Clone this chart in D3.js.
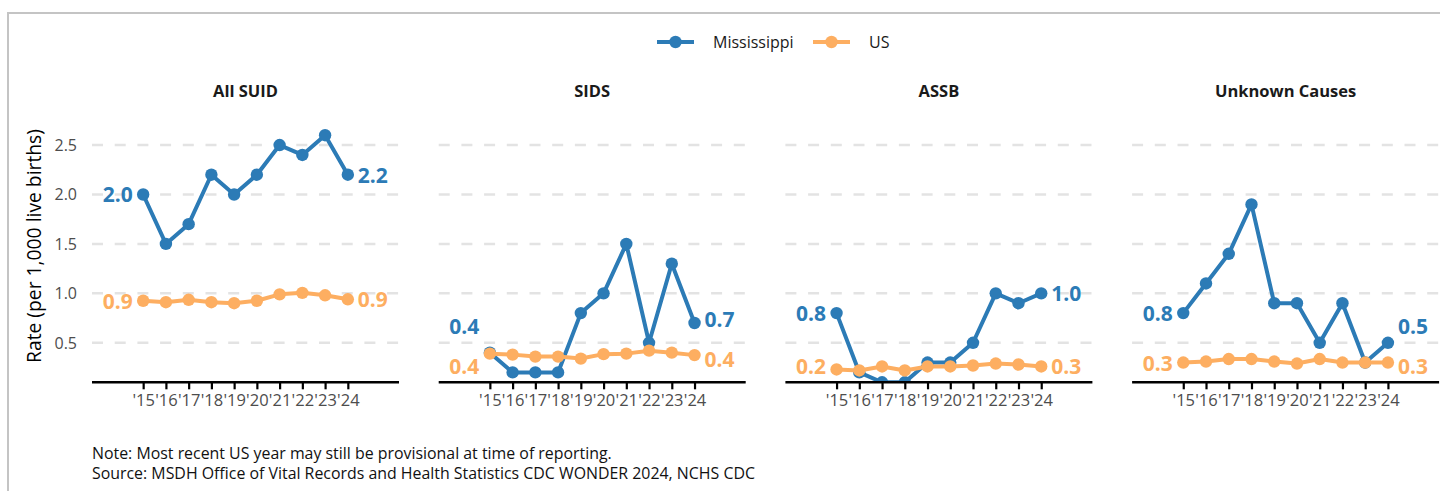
<!DOCTYPE html>
<html>
<head>
<meta charset="utf-8">
<script src="https://cdn.jsdelivr.net/npm/d3@7"></script>
<style>
  body { margin: 0; background: #fff; }
  svg { display: block; font-family: "Segoe UI", "Open Sans", sans-serif; }
</style>
</head>
<body>
<div id="chart"></div>
<script>
// data
var years = [2015, 2016, 2017, 2018, 2019, 2020, 2021, 2022, 2023, 2024];
var yearLabels = ["'15", "'16", "'17", "'18", "'19", "'20", "'21", "'22", "'23", "'24"];
var panelTitles = ["All SUID", "SIDS", "ASSB", "Unknown Causes"];
var seriesNames = ["Mississippi", "US"];
var yTicks = [0.5, 1.0, 1.5, 2.0, 2.5];

var msSuid    = [2.0, 1.5, 1.7, 2.2, 2.0, 2.2, 2.5, 2.4, 2.6, 2.2];
var usSuid    = [0.925, 0.91, 0.935, 0.91, 0.90, 0.925, 0.99, 1.005, 0.98, 0.94];
var msSids    = [0.4, 0.2, 0.2, 0.2, 0.8, 1.0, 1.5, 0.5, 1.3, 0.7];
var usSids    = [0.39, 0.38, 0.36, 0.36, 0.34, 0.385, 0.39, 0.42, 0.40, 0.375];
var msAssb    = [0.8, 0.2, 0.1, 0.1, 0.3, 0.3, 0.5, 1.0, 0.9, 1.0];
var usAssb    = [0.23, 0.22, 0.26, 0.22, 0.26, 0.26, 0.27, 0.29, 0.28, 0.26];
var msUnknown = [0.8, 1.1, 1.4, 1.9, 0.9, 0.9, 0.5, 0.9, 0.3, 0.5];
var usUnknown = [0.30, 0.31, 0.335, 0.335, 0.31, 0.29, 0.335, 0.30, 0.30, 0.30];

var panelData = [
  [msSuid, usSuid],
  [msSids, usSids],
  [msAssb, usAssb],
  [msUnknown, usUnknown]
];

var colors = ["#2c7bb6", "#fdae61"];

var W = 1440, H = 491;
var left = 92, panelW = 307, gap = 39.7;
var plotTop = 125.3, plotBottom = 382.3;

var svg = d3.select("#chart")
  .append("svg")
    .attr("width", W)
    .attr("height", H);

// outer frame (right and bottom sides fall outside the picture)
svg.append("rect")
  .attr("x", 8).attr("y", 13)
  .attr("width", 1500).attr("height", 600)
  .attr("fill", "none")
  .attr("stroke", "#c4c4c4")
  .attr("stroke-width", 2);

var x = d3.scaleLinear()
  .domain([2012.75, 2026.25])
  .range([0, panelW]);

var y = d3.scaleLinear()
  .domain([0.1, 2.7])
  .range([plotBottom, plotTop]);

svg.append("defs").append("clipPath")
    .attr("id", "plotClip")
  .append("rect")
    .attr("x", -20).attr("y", plotTop - 20)
    .attr("width", panelW + 40)
    .attr("height", plotBottom - plotTop + 20);

var line = d3.line()
  .x(function(d, i) { return x(years[i]); })
  .y(function(d) { return y(d); });

// simple label repel: keep labels on one side apart, stay above the axis
function placeLabels(a, b) {
  var minGap = 40, maxY = 366;
  var top = Math.min(a, b), bot = Math.max(a, b);
  if (bot - top < minGap) {
    var mid = (top + bot) / 2;
    top = mid - minGap / 2;
    bot = mid + minGap / 2;
  }
  if (bot > maxY) {
    bot = maxY;
    top = Math.min(top, bot - minGap);
  }
  return a <= b ? [top, bot] : [bot, top];
}

panelTitles.forEach(function(title, p) {
  var g = svg.append("g")
    .attr("transform", "translate(" + (left + p * (panelW + gap)) + ",0)");

  g.append("text")
    .attr("x", panelW / 2)
    .attr("y", 90)
    .attr("text-anchor", "middle")
    .attr("dominant-baseline", "central")
    .attr("font-size", 16.5)
    .attr("font-weight", "bold")
    .attr("fill", "#1a1a1a")
    .text(title);

  // dashed grid
  g.append("g")
    .selectAll("line")
    .data(yTicks)
    .enter()
    .append("line")
      .attr("x1", 0).attr("x2", panelW)
      .attr("y1", function(d) { return y(d); })
      .attr("y2", function(d) { return y(d); })
      .attr("stroke", "#e3e3e3")
      .attr("stroke-width", 2.5)
      .attr("stroke-dasharray", "11,11.7");

  if (p === 0) {
    g.append("g")
      .selectAll("text")
      .data(yTicks)
      .enter()
      .append("text")
        .attr("x", -15)
        .attr("y", function(d) { return y(d); })
        .attr("text-anchor", "end")
        .attr("dominant-baseline", "central")
        .attr("font-size", 16)
        .attr("fill", "#4d4d4d")
        .text(function(d) { return d.toFixed(1); });
  }

  var plot = g.append("g").attr("clip-path", "url(#plotClip)");

  panelData[p].forEach(function(vals, s) {
    plot.append("path")
      .datum(vals)
      .attr("d", line)
      .attr("fill", "none")
      .attr("stroke", colors[s])
      .attr("stroke-width", 4)
      .attr("stroke-linejoin", "round");

    plot.append("g")
      .selectAll("circle")
      .data(vals)
      .enter()
      .append("circle")
        .attr("cx", function(d, i) { return x(years[i]); })
        .attr("cy", function(d) { return y(d); })
        .attr("r", 6.2)
        .attr("fill", colors[s]);
  });

  // x axis
  var xAxis = g.append("g")
    .attr("transform", "translate(0," + plotBottom + ")")
    .call(d3.axisBottom(x)
      .tickValues(years)
      .tickSize(7)
      .tickPadding(5)
      .tickFormat(function(d, i) { return yearLabels[i]; }));
  xAxis.select(".domain")
    .attr("d", "M0,0H" + panelW)
    .attr("stroke", "#000")
    .attr("stroke-width", 2.6);
  xAxis.selectAll(".tick line")
    .attr("stroke", "#000")
    .attr("stroke-width", 2.2);
  xAxis.selectAll(".tick text")
    .attr("font-size", 16.5)
    .attr("font-family", "\"Segoe UI\", \"Open Sans\", sans-serif")
    .attr("fill", "#4d4d4d");

  // end labels
  var n = years.length - 1;
  var ms = panelData[p][0], us = panelData[p][1];
  var leftY = placeLabels(y(ms[0]), y(us[0]));
  var rightY = placeLabels(y(ms[n]), y(us[n]));
  [0, 1].forEach(function(s) {
    var vals = panelData[p][s];
    g.append("text")
      .attr("x", x(years[0]) - 10.5)
      .attr("y", leftY[s])
      .attr("text-anchor", "end")
      .attr("dominant-baseline", "central")
      .attr("font-size", 21)
      .attr("font-weight", "bold")
      .attr("fill", colors[s])
      .text(vals[0].toFixed(1));
    g.append("text")
      .attr("x", x(years[n]) + 10)
      .attr("y", rightY[s])
      .attr("text-anchor", "start")
      .attr("dominant-baseline", "central")
      .attr("font-size", 21)
      .attr("font-weight", "bold")
      .attr("fill", colors[s])
      .text(vals[n].toFixed(1));
  });
});

// y axis title
svg.append("text")
  .attr("transform", "translate(33,246) rotate(-90)")
  .attr("text-anchor", "middle")
  .attr("dominant-baseline", "central")
  .attr("font-size", 19.3)
  .attr("fill", "#000")
  .text("Rate (per 1,000 live births)");

// legend
var legendX = [657, 813];
seriesNames.forEach(function(name, s) {
  var lg = svg.append("g").attr("transform", "translate(" + legendX[s] + ",42)");
  lg.append("line")
    .attr("x1", 0).attr("x2", 37)
    .attr("stroke", colors[s])
    .attr("stroke-width", 4);
  lg.append("circle")
    .attr("cx", 18.5)
    .attr("r", 6.2)
    .attr("fill", colors[s]);
  lg.append("text")
    .attr("x", 56)
    .attr("dominant-baseline", "central")
    .attr("font-size", 16)
    .attr("fill", "#1a1a1a")
    .text(name);
});

// notes
svg.append("text")
  .attr("x", 92).attr("y", 452.5)
  .attr("dominant-baseline", "central")
  .attr("font-size", 15.9)
  .attr("fill", "#111")
  .text("Note: Most recent US year may still be provisional at time of reporting.");
svg.append("text")
  .attr("x", 92).attr("y", 472.5)
  .attr("dominant-baseline", "central")
  .attr("font-size", 15.9)
  .attr("fill", "#111")
  .text("Source: MSDH Office of Vital Records and Health Statistics CDC WONDER 2024, NCHS CDC");
</script>
</body>
</html>
